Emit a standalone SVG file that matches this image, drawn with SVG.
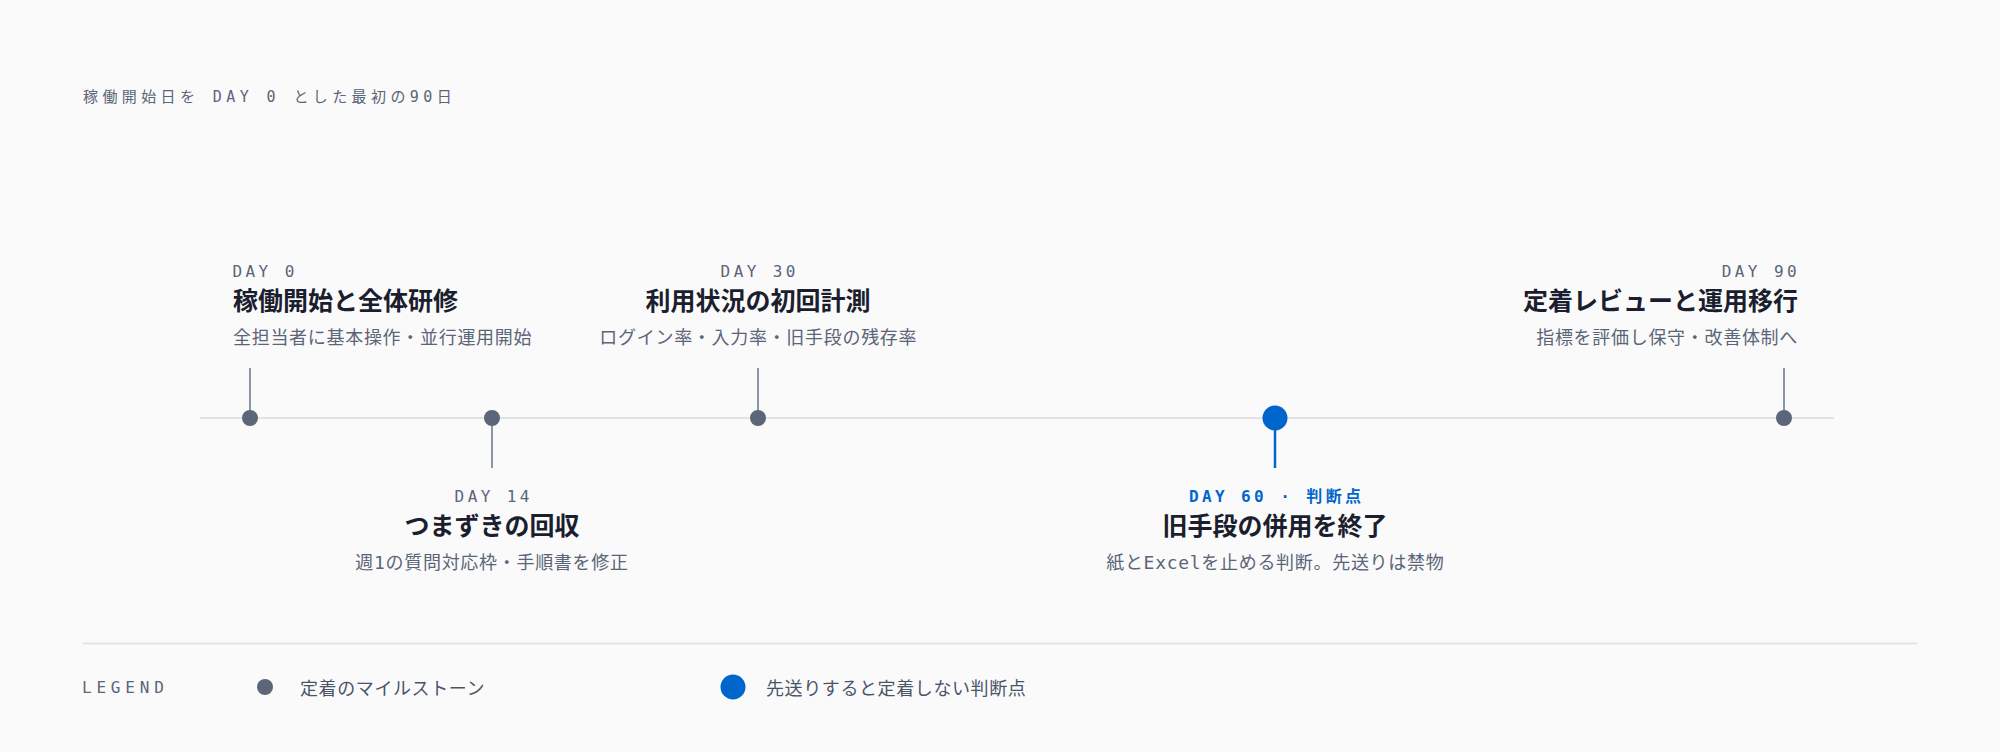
<svg xmlns="http://www.w3.org/2000/svg" width="2000" height="752" viewBox="0 0 2000 752">
  <style>
    .mono { font-family: "DejaVu Sans Mono", "Noto Sans CJK JP", monospace; }
    .hdr { font-size: 15px; letter-spacing: 4.4px; fill: #5b6578; }
    .day { font-size: 16px; letter-spacing: 3.4px; fill: #5b6578; }
    .dayk { font-size: 16px; letter-spacing: 3.4px; fill: #0066cc; font-weight: bold; }
    .ttl { font-family: "Noto Sans CJK JP", sans-serif; font-size: 25px; font-weight: bold; fill: #1b1e2e; }
    .sub { font-size: 18px; letter-spacing: 0.7px; fill: #5b6578; }
    .leg { font-size: 16px; letter-spacing: 4.8px; fill: #5b6578; }
    .legt { font-size: 18px; letter-spacing: 0.6px; fill: #4a5468; }
    .dot { fill: #5b6678; }
    .key { fill: #0066cc; }
    .stem { stroke: #8d96a7; stroke-width: 2; }
    .stemk { stroke: #0066cc; stroke-width: 2.5; }
    .rule { stroke: #e1e3e7; stroke-width: 2; }
  </style>
  <rect x="0" y="0" width="2000" height="752" fill="#fafafa"/>

  <text class="mono hdr" x="83" y="102">稼働開始日を DAY 0 とした最初の90日</text>

  <g id="connectors">
    <line class="rule" x1="200" y1="418" x2="1834" y2="418"/>
    <line class="stem" x1="250" y1="368" x2="250" y2="418"/>
    <line class="stem" x1="492" y1="418" x2="492" y2="468"/>
    <line class="stem" x1="758" y1="368" x2="758" y2="418"/>
    <line class="stemk" x1="1275" y1="418" x2="1275" y2="468"/>
    <line class="stem" x1="1784" y1="368" x2="1784" y2="418"/>
  </g>

  <g id="day0">
    <circle class="dot" cx="250" cy="418" r="8"/>
    <text class="mono day" x="232.5" y="277">DAY 0</text>
    <text class="ttl" x="233" y="310">稼働開始と全体研修</text>
    <text class="mono sub" x="233" y="344">全担当者に基本操作・並行運用開始</text>
  </g>

  <g id="day14">
    <circle class="dot" cx="492" cy="418" r="8"/>
    <text class="mono day" x="493.7" y="502" text-anchor="middle">DAY 14</text>
    <text class="ttl" x="492" y="535" text-anchor="middle">つまずきの回収</text>
    <text class="mono sub" x="492" y="569" text-anchor="middle">週1の質問対応枠・手順書を修正</text>
  </g>

  <g id="day30">
    <circle class="dot" cx="758" cy="418" r="8"/>
    <text class="mono day" x="759.7" y="277" text-anchor="middle">DAY 30</text>
    <text class="ttl" x="758" y="310" text-anchor="middle">利用状況の初回計測</text>
    <text class="mono sub" x="758.3" y="344" text-anchor="middle">ログイン率・入力率・旧手段の残存率</text>
  </g>

  <g id="day60">
    <circle class="key" cx="1275" cy="418" r="12.5"/>
    <text class="mono dayk" x="1276.7" y="502" text-anchor="middle">DAY 60 · 判断点</text>
    <text class="ttl" x="1275" y="535" text-anchor="middle">旧手段の併用を終了</text>
    <text class="mono sub" x="1275.3" y="569" text-anchor="middle">紙とExcelを止める判断。先送りは禁物</text>
  </g>

  <g id="day90">
    <circle class="dot" cx="1784" cy="418" r="8"/>
    <text class="mono day" x="1800" y="277" text-anchor="end">DAY 90</text>
    <text class="ttl" x="1798" y="310" text-anchor="end">定着レビューと運用移行</text>
    <text class="mono sub" x="1798" y="344" text-anchor="end">指標を評価し保守・改善体制へ</text>
  </g>

  <line class="rule" x1="83" y1="643.5" x2="1917" y2="643.5"/>

  <g id="legend">
    <text class="mono leg" x="82" y="693">LEGEND</text>
    <circle class="dot" cx="265" cy="687" r="8"/>
    <text class="mono legt" x="300" y="695">定着のマイルストーン</text>
    <circle class="key" cx="733" cy="687" r="12.5"/>
    <text class="mono legt" x="766" y="695">先送りすると定着しない判断点</text>
  </g>
</svg>
